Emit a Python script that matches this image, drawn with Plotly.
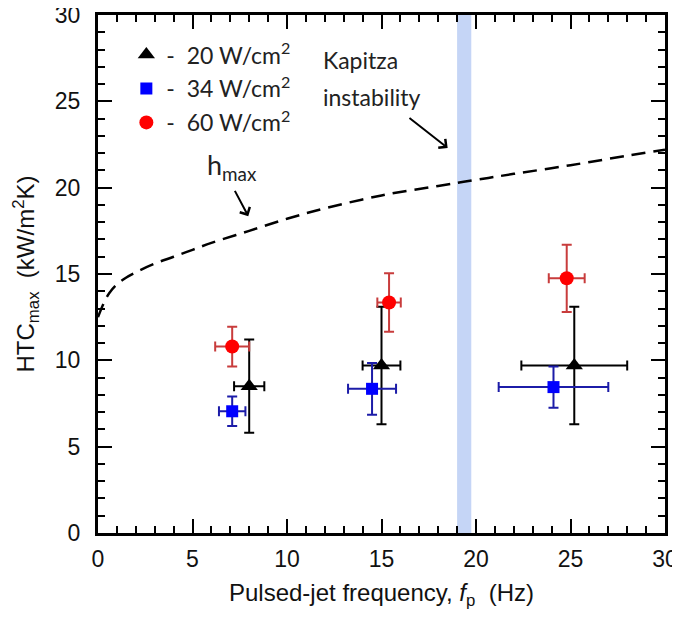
import plotly.graph_objects as go

# ---- data ----
# 20 W/cm2 (black triangles)
f20 = [8.0, 15.0, 25.2]
h20 = [8.5, 9.7, 9.7]
ex20 = [0.8, 1.0, 2.8]
ey20 = [2.7, 3.4, 3.4]

# 34 W/cm2 (blue squares)
f34 = [7.1, 14.5, 24.1]
h34 = [7.05, 8.35, 8.45]
ex34 = [0.7, 1.27, 2.9]
ey34 = [0.85, 1.5, 1.2]

# 60 W/cm2 (red circles)
f60 = [7.1, 15.4, 24.8]
h60 = [10.8, 13.35, 14.75]
ex60 = [0.9, 0.62, 0.95]
ey60 = [1.15, 1.7, 1.95]

# h_max curve (dashed)
fh = [0, 0.3, 0.6, 1.0, 1.5, 2, 3, 4, 5, 6, 8, 10, 12, 15, 18, 20, 22, 25, 28, 30]
hh = [12.5, 13.3, 13.9, 14.4, 14.8, 15.1, 15.6, 16.0, 16.4, 16.8, 17.5, 18.2, 18.8, 19.55, 20.1, 20.45, 20.8, 21.3, 21.85, 22.2]

# Kapitza instability band
kap_x0, kap_x1 = 19.0, 19.75

TICK_FONT = "Liberation Sans, Arial, sans-serif"
ANN_FONT = "Lato, Open Sans, sans-serif"

fig = go.Figure()

fig.add_shape(type="rect", xref="x", yref="y", x0=kap_x0, x1=kap_x1, y0=0, y1=30,
              fillcolor="#c5d5f6", line_width=0, layer="below")

fig.add_trace(go.Scatter(x=fh, y=hh, mode="lines", showlegend=False,
                         line=dict(color="black", width=2.5, dash="14px,8px"),
                         line_shape="spline"))

def series(x, y, ex, ey, name, sym, mcol, ecol, size):
    return go.Scatter(
        x=x, y=y, mode="markers", name=name, legendgroup=name,
        marker=dict(symbol=sym, color=mcol, size=size, line=dict(width=0)),
        error_x=dict(type="data", array=ex, color=ecol, thickness=2, width=5),
        error_y=dict(type="data", array=ey, color=ecol, thickness=2, width=5),
    )

fig.add_trace(series(f20, h20, ex20, ey20, "-  20 W/cm<sup>2</sup>", "triangle-up", "black", "black", 15))
fig.add_trace(series(f34, h34, ex34, ey34, "-  34 W/cm<sup>2</sup>", "square", "#0000ff", "#1c1ca8", 12))
fig.add_trace(series(f60, h60, ex60, ey60, "-  60 W/cm<sup>2</sup>", "circle", "#ff0000", "#c83c3c", 14))

# annotations
fig.add_annotation(x=11.8, y=27.4, xref="x", yref="y", text="Kapitza", showarrow=False,
                   xanchor="left", yanchor="middle", font=dict(family=ANN_FONT, size=23, color="#222"))
fig.add_annotation(x=11.8, y=25.25, xref="x", yref="y", text="instability", showarrow=False,
                   xanchor="left", yanchor="middle", font=dict(family=ANN_FONT, size=23, color="#222"))
fig.add_annotation(x=18.5, y=22.3, ax=16.4, ay=24.1, xref="x", yref="y", axref="x", ayref="y",
                   text="", showarrow=True, arrowhead=4, arrowsize=1.1, arrowwidth=2, arrowcolor="black")
fig.add_annotation(x=7.1, y=21.2, xref="x", yref="y", text="h<sub>max</sub>", showarrow=False,
                   xanchor="center", yanchor="middle", font=dict(family=ANN_FONT, size=27, color="#222"))
fig.add_annotation(x=7.95, y=18.35, ax=7.2, ay=19.9, xref="x", yref="y", axref="x", ayref="y",
                   text="", showarrow=True, arrowhead=4, arrowsize=1.1, arrowwidth=2, arrowcolor="black")

axis_common = dict(
    showline=True, linecolor="black", linewidth=3, mirror="allticks",
    ticks="inside", ticklen=14, tickwidth=2, tickcolor="black",
    showgrid=False, zeroline=False, automargin=False, ticklabeloverflow="allow",
    tickfont=dict(family=TICK_FONT, size=23, color="#111"),
    minor=dict(dtick=1, ticks="inside", ticklen=7, tickwidth=1.5, tickcolor="black", showgrid=False),
)

fig.update_xaxes(range=[0, 30], dtick=5, tick0=0, ticklabelstandoff=3,
                 title=dict(text="Pulsed-jet frequency, <i>f</i><sub>p</sub>  (Hz)",
                            font=dict(family=TICK_FONT, size=24, color="#111"), standoff=14),
                 **axis_common)
fig.update_yaxes(range=[0, 30], dtick=5, tick0=0, ticklabelstandoff=10,
                 title=dict(text="HTC<sub>max</sub>  (kW/m<sup>2</sup>K)",
                            font=dict(family=TICK_FONT, size=24, color="#111"), standoff=14),
                 **axis_common)

# the page body adds an 8px offset, so the figure is sized to the visible area
fig.update_layout(
    width=672, height=610,
    margin=dict(l=90, r=15, t=7, b=85),
    plot_bgcolor="white", paper_bgcolor="white",
    showlegend=True,
    legend=dict(x=0.05, y=0.965, xanchor="left", yanchor="top", traceorder="grouped",
                tracegroupgap=1, bgcolor="rgba(0,0,0,0)",
                font=dict(family=ANN_FONT, size=23, color="#222")),
)

fig.write_html("out.html")
